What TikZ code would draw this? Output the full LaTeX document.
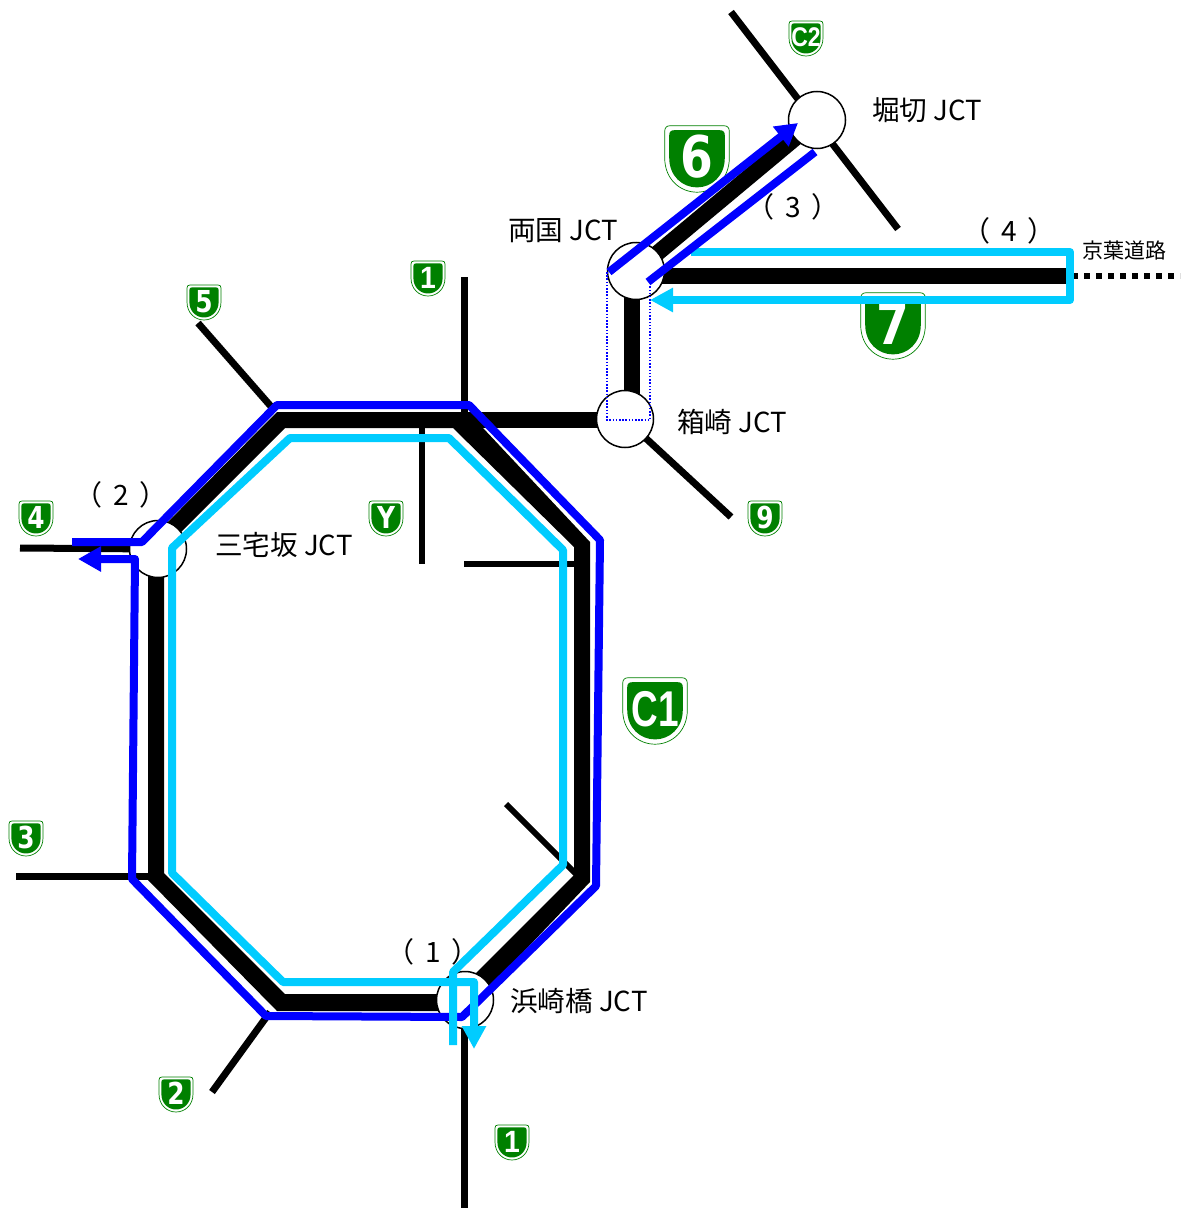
\documentclass[tikz,border=0pt]{standalone}
\usepackage{fontspec}
\setmainfont{Noto Sans CJK JP}
\newfontfamily\shieldfont{DejaVu Sans}
\newfontfamily\plainshieldfont{Liberation Sans}
\usetikzlibrary{arrows.meta}
\definecolor{shieldgreen}{RGB}{0,128,0}
\definecolor{routeblue}{RGB}{0,0,255}
\definecolor{routecyan}{RGB}{0,204,255}
\tikzset{
  main road/.style={line width=16pt},
  side road/.style={line width=7pt},
  thin road/.style={line width=6pt},
  route/.style={line width=8pt, line join=round},
  jct/.style={circle, draw, fill=white, line width=1.5pt, minimum size=57pt, inner sep=0pt},
  jct label/.style={anchor=west, font=\fontsize{27.6}{28}\selectfont, inner sep=0pt},
  section label/.style={font=\fontsize{28}{28}\selectfont, inner sep=0pt},
  shield text/.style={text=white, inner sep=0pt, transform shape, font=\shieldfont\bfseries\fontsize{27}{27}\selectfont}
}
\newcommand{\shieldpath}{(-14,-17) -- (14,-17) .. controls (16,-17) and (17,-16) .. (17,-14) -- (17,0)
  .. controls (17,11) and (9,18) .. (0,18) .. controls (-9,18) and (-17,11) .. (-17,0) -- (-17,-14)
  .. controls (-17,-16) and (-16,-17) .. (-14,-17) -- cycle}
\newcommand{\shield}[4]{
  \begin{scope}[shift={(#2)}, scale=#3]
    \draw[shieldgreen, line width=0.7pt] \shieldpath;
    \fill[shieldgreen, scale=0.86] \shieldpath;
    \node[shield text] (#1) at (0,-0.5) {#4};
  \end{scope}
}
\newcommand{\digit}[1]{\scalebox{0.92}[1.12]{#1}}
\newcommand{\plainsign}[3]{\scalebox{#1}[#2]{\plainshieldfont\bfseries #3}}
\begin{document}
\begin{tikzpicture}[x=1pt, y=-1pt]
    \useasboundingbox (0,0) rectangle (1180,1209);

    \coordinate (hakozaki) at (625, 419);
    \coordinate (ryogoku)  at (636, 271);
    \coordinate (horikiri) at (817, 120);
    \coordinate (miyake)   at (158, 549);
    \coordinate (hamazaki) at (465, 1000);
    \coordinate (keiyo)    at (1066, 276);

    % shields under the routes
    \shield{s6}{697,158}{1.9}{\digit{6}}
    \shield{s7}{893,325}{1.9}{\digit{7}}
    \shield{sC1}{655,710}{1.9}{\plainsign{0.72}{0.98}{C1}}
    \shield{sC2}{806,38}{1}{\plainsign{0.85}{1}{C2}}
    \shield{s1a}{428,278}{1}{\plainsign{1.05}{1.14}{1}}
    \shield{s5}{204,302}{1}{\digit{5}}
    \shield{s4}{36,518}{1}{\digit{4}}
    \shield{sY}{386,518}{1}{\digit{Y}}
    \shield{s9}{765,518}{1}{\digit{9}}
    \shield{s3}{26,838}{1}{\digit{3}}
    \shield{s2}{176,1094}{1}{\digit{2}}
    \shield{s1b}{512,1142}{1}{\plainsign{1.05}{1.14}{1}}

    % side roads
    \coordinate (c2end) at (731, 12);
    \coordinate (r7end) at (898, 229);
    \coordinate (r1top) at (464, 277);
    \coordinate (r1joint) at (464, 420);
    \coordinate (r5end) at (198, 323);
    \coordinate (r5joint) at (275, 411);
    \coordinate (r4end) at (20, 548);
    \coordinate (r3end) at (16, 876);
    \coordinate (r3joint) at (156, 876);
    \coordinate (r2end) at (212, 1092);
    \coordinate (r2joint) at (270, 1012);
    \coordinate (r1low) at (464, 1208);
    \coordinate (r1high) at (464, 1000);
    \coordinate (r9end) at (731, 517);
    \coordinate (y1) at (422, 428);
    \coordinate (y2) at (422, 564);
    \coordinate (y3) at (464, 564);
    \coordinate (y4) at (582, 564);
    \coordinate (y5) at (506, 804);
    \coordinate (y6) at (582, 880);
    \draw[side road] (c2end) -- (r7end);
    \draw[side road] (r1top) -- (r1joint);
    \draw[side road] (r5end) -- (r5joint);
    \draw[side road] (r4end) -- (miyake);
    \draw[side road] (r3end) -- (r3joint);
    \draw[side road] (r2end) -- (r2joint);
    \draw[side road] (r1high) -- (r1low);
    \draw[side road] (hakozaki) -- (r9end);
    \draw[thin road] (y1) -- (y2);
    \draw[thin road] (y3) -- (y4);
    \draw[thin road] (y5) -- (y6);

    % main roads
    \fill[even odd rule] (277, 412) -- (468, 412) -- (590, 542) -- (590, 882) -- (467, 1011)
        -- (277, 1011) -- (148, 880) -- (148, 542) -- cycle
        (285, 428) -- (453, 428) -- (574, 547) -- (574, 875) -- (455, 994)
        -- (285, 994) -- (164, 873) -- (164, 549) -- cycle;
    \coordinate (hakoWest) at (625, 420);
    \coordinate (ringEast) at (465, 420);
    \coordinate (hakoNorth) at (632, 419);
    \coordinate (ryoSouth) at (632, 271);
    \draw[main road] (ringEast) -- (hakoWest);
    \draw[main road] (hakoNorth) -- (ryoSouth);
    \draw[main road] (ryogoku) -- (horikiri);
    \draw[main road] (ryogoku) -- (ryogoku |- keiyo) -- (keiyo);
    \coordinate (dots1) at (1072, 276);
    \coordinate (dots2) at (1180, 276);
    \draw[line width=6pt, dash pattern=on 6pt off 6pt] (dots1) -- (dots2);

    % junctions
    \node[jct] (jHorikiri) at (horikiri) {};
    \node[jct] (jRyogoku)  at (ryogoku) {};
    \node[jct] (jHakozaki) at (hakozaki) {};
    \node[jct] (jMiyake)   at (miyake) {};
    \node[jct] (jHamazaki) at (hamazaki) {};

    \draw[routeblue, line width=1.1pt, dash pattern=on 1.5pt off 1.7pt] (607, 272) -- (607, 420) -- (650, 420) -- (650, 285);

    % routes
    \draw[route, routecyan, -{Triangle[length=23pt, width=23pt]}]
        (691, 252) -- (1070, 252) -- (1070, 300) -- (650, 300);
    \draw[route, routeblue, -{Triangle[length=22pt, width=24pt]}] (609, 272) -- (798, 123);
    \draw[route, routeblue] (648, 282) -- (815, 152);
    \draw[route, routeblue, -{Triangle[length=23pt, width=24pt]}]
        (72, 542) -- (142, 542) -- (277, 405) -- (469, 405) -- (600, 540) -- (596, 886)
        -- (462, 1017) -- (266, 1016) -- (132, 879) -- (135, 559) -- (78, 559);
    \draw[route, routecyan, -{Triangle[length=23pt, width=23pt]}]
        (453, 1045) -- (453, 972) -- (563, 865) -- (563, 550) -- (449, 438) -- (290, 438)
        -- (172, 548) -- (172, 873) -- (283, 982) -- (474, 982) -- (474, 1049);

    % labels
    \node[jct label] (lHorikiri) at (872, 110) {堀切 JCT};
    \node[jct label] (lRyogoku)  at (508, 231) {両国 JCT};
    \node[jct label] (lHakozaki) at (677, 422) {箱崎 JCT};
    \node[jct label] (lMiyake)   at (215, 545) {三宅坂 JCT};
    \node[jct label] (lHamazaki) at (510, 1001) {浜崎橋 JCT};
    \node[section label] (sec1) at (433, 952) {（\hspace{11pt}1\hspace{11pt}）};
    \node[section label] (sec2) at (121, 495) {（\hspace{11pt}2\hspace{11pt}）};
    \node[section label] (sec3) at (793, 207) {（\hspace{11pt}3\hspace{11pt}）};
    \node[section label] (sec4) at (1009, 231) {（\hspace{11pt}4\hspace{11pt}）};
    \node[inner sep=0pt, font=\fontsize{21}{21}\selectfont] (lKeiyo) at (1124, 251) {京葉道路};
\end{tikzpicture}
\end{document}
